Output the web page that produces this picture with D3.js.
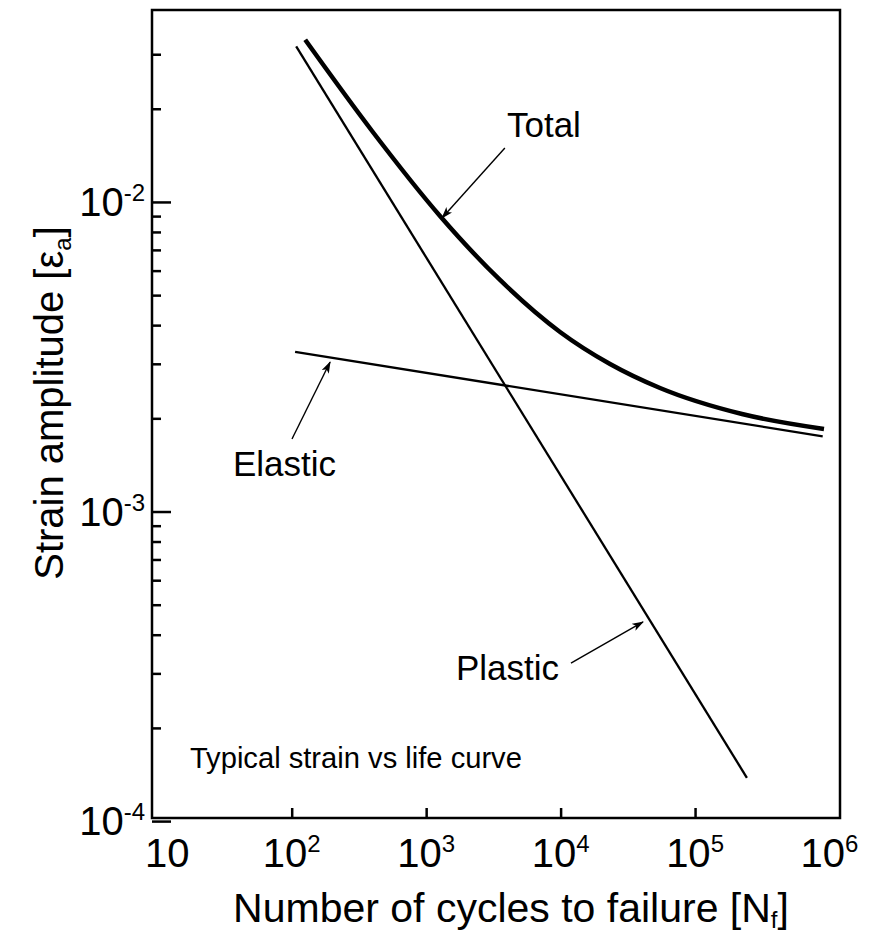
<!DOCTYPE html>
<html>
<head>
<meta charset="utf-8">
<script src="https://cdn.jsdelivr.net/npm/d3@7"></script>
<style>
  body { margin: 0; background: #fff; }
  text { font-family: 'Liberation Sans', Arial, sans-serif; fill: #000; }
</style>
</head>
<body>
<div id="chart"></div>
<script>
// Data (N = cycles, eps = strain amplitude)
const plasticN = [108, 243000]
const plasticEps = [0.0318, 0.000138]
const elasticN = [106, 890000]
const elasticEps = [0.00328, 0.00175]
const totalN = [126, 396, 1268, 3542, 9900, 23310, 54870, 223500, 910000]
const totalEps = [0.0334, 0.01695, 0.009008, 0.005596, 0.003802, 0.002996, 0.002506, 0.002065, 0.001848]

// Tick labels (powers of ten)
const xTickExp = [1, 2, 3, 4, 5, 6]
const yTickExp = [-2, -3, -4]

// Annotation texts
const annoLabels = ['Total', 'Elastic', 'Plastic']
const caption = 'Typical strain vs life curve'

;(() => {
  const width = 874
  const height = 933
  const plot = { left: 152, right: 840, top: 10, bottom: 818 }

  const svg = d3.select('#chart')
    .append('svg')
    .attr('width', width)
    .attr('height', height)

  svg.append('defs').append('marker')
    .attr('id', 'arrow')
    .attr('viewBox', '0 0 12 8')
    .attr('refX', 11)
    .attr('refY', 4)
    .attr('markerWidth', 12)
    .attr('markerHeight', 8)
    .attr('markerUnits', 'userSpaceOnUse')
    .attr('orient', 'auto')
    .append('path')
    .attr('d', 'M0,0 L12,4 L0,8 L3,4 Z')
    .attr('fill', '#000')

  // Scales
  const x = d3.scaleLog()
    .domain([Math.pow(10, 0.961), Math.pow(10, 6.078)])
    .range([plot.left, plot.right])
  const y = d3.scaleLog()
    .domain([Math.pow(10, -3.99), Math.pow(10, -1.38)])
    .range([plot.bottom, plot.top])

  //=======================================================

  // Left axis - minor ticks (2..9 per decade), inward
  const minorY = []
  for (let e = -4; e <= -2; e++) {
    for (let m = 2; m <= 9; m++) {
      const v = m * Math.pow(10, e)
      if (v <= 0.031) minorY.push(v)
    }
  }
  svg.append('g')
    .attr('transform', `translate(${plot.left}, 0)`)
    .call(d3.axisLeft(y).tickValues(minorY).tickSize(-9).tickFormat(''))
    .call(g => g.select('.domain').remove())
    .call(g => g.selectAll('line').attr('stroke', '#000').attr('stroke-width', 2.5))

  // Left axis - major ticks
  const yAxis = svg.append('g')
    .attr('transform', `translate(${plot.left}, 0)`)
    .call(d3.axisLeft(y)
      .tickValues(yTickExp.map(e => Math.pow(10, e)))
      .tickSize(-19)
      .tickFormat(''))
  yAxis.select('.domain').remove()
  yAxis.selectAll('line').attr('stroke', '#000').attr('stroke-width', 2.5)

  // Y tick labels with superscripts
  const yLab = svg.append('g')
    .selectAll('text')
    .data(yTickExp)
    .join('text')
    .attr('x', 145)
    .attr('y', d => y(Math.pow(10, d)) + 14)
    .attr('text-anchor', 'end')
    .style('font-size', '40px')
  yLab.append('tspan').text('10')
  yLab.append('tspan')
    .attr('dy', -15)
    .style('font-size', '24px')
    .text(d => '-' + Math.abs(d))

  // Bottom axis - decade ticks, inward
  const xAxis = svg.append('g')
    .attr('transform', `translate(0, ${plot.bottom})`)
    .call(d3.axisBottom(x)
      .tickValues(xTickExp.slice(1, 5).map(e => Math.pow(10, e)))
      .tickSize(-10)
      .tickFormat(''))
  xAxis.select('.domain').remove()
  xAxis.selectAll('line').attr('stroke', '#000').attr('stroke-width', 2.5)

  // X tick labels
  const xLab = svg.append('g')
    .selectAll('text')
    .data(xTickExp)
    .join('text')
    .attr('x', d => x(Math.pow(10, d)) + (d === 1 ? 10 : 0))
    .attr('y', 867)
    .attr('text-anchor', 'middle')
    .style('font-size', '40px')
  xLab.append('tspan').text('10')
  xLab.filter(d => d > 1).append('tspan')
    .attr('dy', -15)
    .style('font-size', '24px')
    .text(d => d)

  // Frame
  svg.append('rect')
    .attr('x', plot.left)
    .attr('y', plot.top)
    .attr('width', plot.right - plot.left)
    .attr('height', plot.bottom - plot.top)
    .attr('fill', 'none')
    .attr('stroke', '#000')
    .attr('stroke-width', 2.5)

  // Axis titles
  const xTitle = svg.append('text')
    .attr('x', 511)
    .attr('y', 922)
    .attr('text-anchor', 'middle')
    .style('font-size', '41px')
  xTitle.append('tspan').text('Number of cycles to failure [N')
  xTitle.append('tspan').attr('dy', 6).style('font-size', '24px').text('f')
  xTitle.append('tspan').attr('dy', -6).text(']')

  const yTitle = svg.append('text')
    .attr('transform', 'translate(63, 403) rotate(-90)')
    .attr('text-anchor', 'middle')
    .style('font-size', '40px')
  yTitle.append('tspan').text('Strain amplitude [\u03b5')
  yTitle.append('tspan').attr('dy', 8).style('font-size', '24px').text('a')
  yTitle.append('tspan').attr('dy', -8).text(']')

  //=======================================================

  // Curves
  const line = d3.line()
    .x(d => x(d[0]))
    .y(d => y(d[1]))

  svg.append('path')
    .datum(d3.zip(plasticN, plasticEps))
    .attr('fill', 'none')
    .attr('stroke', '#000')
    .attr('stroke-width', 2.3)
    .attr('d', line)

  svg.append('path')
    .datum(d3.zip(elasticN, elasticEps))
    .attr('fill', 'none')
    .attr('stroke', '#000')
    .attr('stroke-width', 2.3)
    .attr('d', line)

  svg.append('path')
    .datum(d3.zip(totalN, totalEps))
    .attr('fill', 'none')
    .attr('stroke', '#000')
    .attr('stroke-width', 4.5)
    .attr('d', line.curve(d3.curveMonotoneX))

  //=======================================================

  // Annotations (anchored in data units)
  const annoText = [[3990, 0.01622], [36.6, 0.001303], [1667, 0.000286]]
  const annoFrom = [[3850, 0.01493], [100.5, 0.001715], [11940, 0.000324]]
  const annoTo = [[1312, 0.00888], [193, 0.00304], [41020, 0.00044]]

  svg.append('g')
    .selectAll('text')
    .data(annoLabels)
    .join('text')
    .attr('x', (d, i) => x(annoText[i][0]))
    .attr('y', (d, i) => y(annoText[i][1]))
    .style('font-size', '35px')
    .text(d => d)

  svg.append('g')
    .selectAll('line')
    .data(annoLabels)
    .join('line')
    .attr('x1', (d, i) => x(annoFrom[i][0]))
    .attr('y1', (d, i) => y(annoFrom[i][1]))
    .attr('x2', (d, i) => x(annoTo[i][0]))
    .attr('y2', (d, i) => y(annoTo[i][1]))
    .attr('stroke', '#000')
    .attr('stroke-width', 1.4)
    .attr('marker-end', 'url(#arrow)')

  svg.append('text')
    .attr('x', x(17.5))
    .attr('y', y(0.0001485))
    .attr('textLength', 332)
    .attr('lengthAdjust', 'spacingAndGlyphs')
    .style('font-size', '29px')
    .text(caption)
})()
</script>
</body>
</html>
